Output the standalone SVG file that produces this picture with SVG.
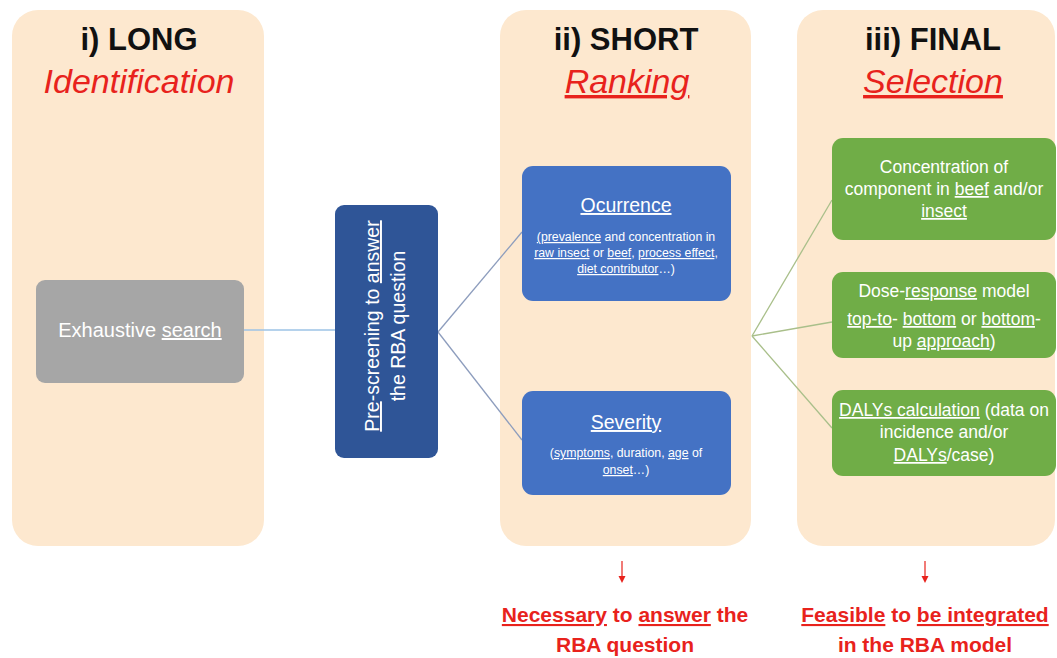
<svg xmlns="http://www.w3.org/2000/svg" width="1057" height="658" viewBox="0 0 1057 658">
<defs>
<style>
.panel{fill:#fde8cf}
.t{font-family:"Liberation Sans",Arial,sans-serif;text-anchor:middle}
.title{font-size:31px;font-weight:bold;fill:#111}
.sub{font-size:34px;font-style:italic;fill:#e8221c}
.w{fill:#fff}
.sq{text-decoration:underline}
.ul{text-decoration:underline}
.red{font-size:21px;font-weight:bold;fill:#e8221c}
.conn{fill:none;stroke-width:1.3}
.arr{stroke:#e8221c;stroke-width:1.2}
.ahead{fill:#e8221c}
.g{font-size:17.5px}
.s{font-size:12.3px}
</style>
</defs>
<rect width="1057" height="658" fill="#fff"/>

<g id="panel-long">
<rect class="panel" x="12" y="10" width="252" height="536" rx="26"/>
<text class="t title" x="139" y="50">i) LONG</text>
<text class="t sub" x="139" y="93">Identification</text>
</g>
<g id="panel-short">
<rect class="panel" x="500" y="10" width="251" height="536" rx="26"/>
<text class="t title" x="626" y="50">ii) SHORT</text>
<text class="t sub" x="627" y="93"><tspan class="sq">Ranking</tspan></text>
</g>
<g id="panel-final">
<rect class="panel" x="797" y="10" width="258" height="536" rx="26"/>
<text class="t title" x="933" y="50">iii) FINAL</text>
<text class="t sub" x="933" y="93"><tspan class="sq">Selection</tspan></text>
</g>

<g id="connectors">
<line class="conn" x1="244" y1="330" x2="335" y2="330" stroke="#9dc3e6"/>
<line class="conn" x1="438" y1="332" x2="522" y2="232" stroke="#8d9dbd"/>
<line class="conn" x1="438" y1="332" x2="522" y2="440" stroke="#8d9dbd"/>
<line class="conn" x1="752" y1="336" x2="832" y2="200" stroke="#a9bf8a"/>
<line class="conn" x1="752" y1="336" x2="832" y2="322" stroke="#a9bf8a"/>
<line class="conn" x1="752" y1="336" x2="832" y2="428" stroke="#a9bf8a"/>
<line class="arr" x1="622" y1="561" x2="622" y2="577"/>
<polygon class="ahead" points="618.5,576 625.5,576 622,583"/>
<line class="arr" x1="925" y1="561" x2="925" y2="577"/>
<polygon class="ahead" points="921.5,576 928.5,576 925,583"/>
</g>

<g id="exhaustive">
<rect x="36" y="280" width="208" height="103" rx="9" fill="#a6a6a6"/>
<text class="t w" x="140" y="337" font-size="20">Exhaustive <tspan class="sq">search</tspan></text>
</g>

<g id="prescreening">
<rect x="335" y="205" width="103" height="253" rx="9" fill="#2f5597"/>
<text class="t w" font-size="19.5" transform="translate(379,326) rotate(-90)"><tspan class="sq">Pre</tspan>-screening to <tspan class="sq">answer</tspan></text>
<text class="t w" font-size="19.5" transform="translate(405,326) rotate(-90)">the RBA question</text>
</g>

<g id="ocurrence">
<rect x="522" y="166" width="209" height="135" rx="11" fill="#4472c4"/>
<text class="t w" x="626" y="212" font-size="19.5"><tspan class="ul">Ocurrence</tspan></text>
<text class="t w s" x="626" y="241"><tspan class="sq">(prevalence</tspan> and concentration in</text>
<text class="t w s" x="626" y="257"><tspan class="sq">raw insect</tspan> or <tspan class="sq">beef</tspan>, <tspan class="sq">process effect</tspan>,</text>
<text class="t w s" x="626" y="273"><tspan class="sq">diet contributor</tspan>…)</text>
</g>

<g id="severity">
<rect x="522" y="391" width="209" height="104" rx="11" fill="#4472c4"/>
<text class="t w" x="626" y="429" font-size="19.5"><tspan class="ul">Severity</tspan></text>
<text class="t w s" x="626" y="457">(<tspan class="sq">symptoms</tspan>, duration, <tspan class="sq">age</tspan> of</text>
<text class="t w s" x="626" y="474"><tspan class="sq">onset</tspan>…)</text>
</g>

<g id="concentration">
<rect x="832" y="138" width="224" height="102" rx="11" fill="#70ad47"/>
<text class="t w g" x="944" y="173">Concentration of</text>
<text class="t w g" x="944" y="195">component in <tspan class="sq">beef</tspan> and/or</text>
<text class="t w g" x="944" y="217"><tspan class="sq">insect</tspan></text>
</g>

<g id="dose-response">
<rect x="832" y="272" width="224" height="86" rx="11" fill="#70ad47"/>
<text class="t w g" x="944" y="297">Dose-<tspan class="sq">response</tspan> model</text>
<text class="t w g" x="944" y="325"><tspan class="sq">top-to</tspan>- <tspan class="sq">bottom</tspan> or <tspan class="sq">bottom</tspan>-</text>
<text class="t w g" x="944" y="347">up <tspan class="sq">approach</tspan>)</text>
</g>

<g id="dalys">
<rect x="832" y="390" width="224" height="86" rx="11" fill="#70ad47"/>
<text class="t w g" x="944" y="416"><tspan class="sq">DALYs calculation</tspan> (data on</text>
<text class="t w g" x="944" y="438">incidence and/or</text>
<text class="t w g" x="944" y="461"><tspan class="sq">DALYs</tspan>/case)</text>
</g>

<g id="label-necessary">
<text class="t red" x="625" y="622"><tspan class="sq">Necessary</tspan> to <tspan class="sq">answer</tspan> the</text>
<text class="t red" x="625" y="652">RBA question</text>
</g>
<g id="label-feasible">
<text class="t red" x="925" y="622"><tspan class="sq">Feasible</tspan> to <tspan class="sq">be integrated</tspan></text>
<text class="t red" x="925" y="652">in the RBA model</text>
</g>
</svg>
